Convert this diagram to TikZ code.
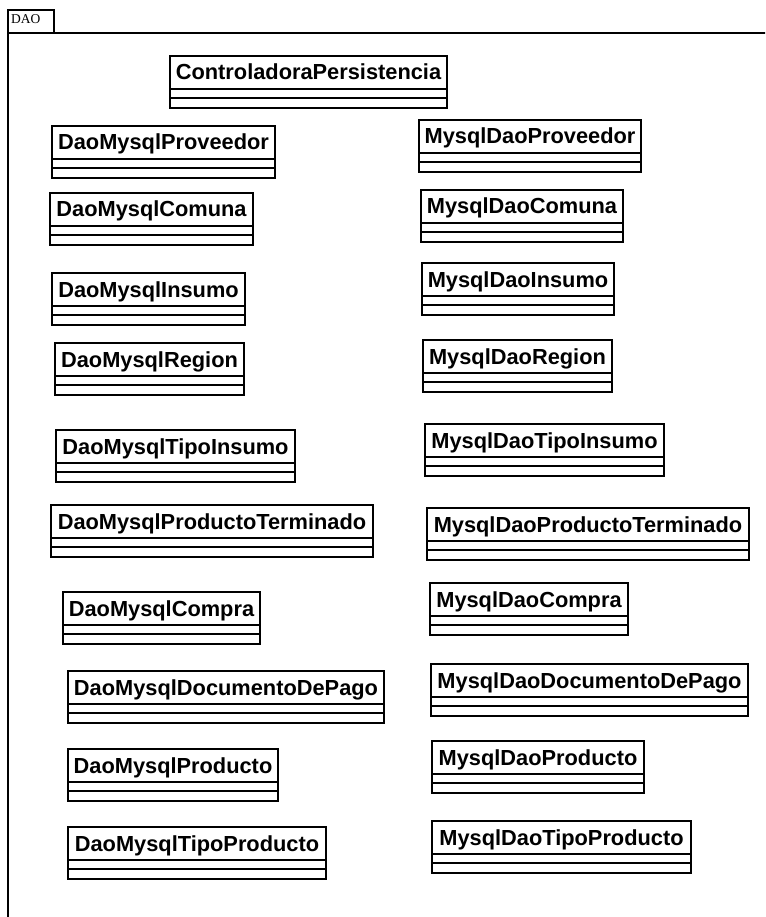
\documentclass[tikz,border=0pt]{standalone}
\usepackage{fontspec}
\setmainfont{Liberation Sans}
\newfontfamily\tabfont{Liberation Serif}
\tikzset{
  box/.style={draw=black, line width=2.2pt},
  lbl/.style={anchor=base, inner sep=0pt, font=\fontsize{21.8}{24}\selectfont\bfseries},
  frameline/.style={draw=black, line width=2pt},
}
\newcommand\umlcls[5]{%
  \draw[box, fill=white] (#2,-#3) rectangle (#4,-#3-52);
  \draw[box] (#2,-#3-33) -- (#4,-#3-33);
  \draw[box] (#2,-#3-42) -- (#4,-#3-42);
  \node[lbl] (#1) at ({(#2+#4)/2},-#3-24) {#5};
}
\begin{document}
\begin{tikzpicture}[x=1pt,y=1pt]
\useasboundingbox (0,0) rectangle (765,-917);
\clip (0,0) rectangle (765,-917);
\fill[white] (0,0) rectangle (765,-917);
% package frame
\draw[frameline] (8,-33) rectangle (800,-960);
\draw[frameline, fill=white] (8,-10) rectangle (54,-33);
\node[anchor=base west, inner sep=0pt, font=\tabfont\fontsize{13.5}{15}\selectfont] (daotab) at (11,-24) {DAO};
% classes
\umlcls{ctrl}{170}{56}{447}{ControladoraPersistencia}
\umlcls{dprov}{52}{126}{275}{DaoMysqlProveedor}
\umlcls{dcom}{50}{193}{253}{DaoMysqlComuna}
\umlcls{dins}{52}{273}{245}{DaoMysqlInsumo}
\umlcls{dreg}{55}{343}{244}{DaoMysqlRegion}
\umlcls{dtins}{56}{430}{295}{DaoMysqlTipoInsumo}
\umlcls{dpt}{51}{505}{373}{DaoMysqlProductoTerminado}
\umlcls{dcomp}{63}{592}{260}{DaoMysqlCompra}
\umlcls{ddoc}{68}{671}{384}{DaoMysqlDocumentoDePago}
\umlcls{dprod}{68}{749}{278}{DaoMysqlProducto}
\umlcls{dtprod}{68}{827}{326}{DaoMysqlTipoProducto}
\umlcls{mprov}{419}{120}{641}{MysqlDaoProveedor}
\umlcls{mcom}{421}{190}{623}{MysqlDaoComuna}
\umlcls{mins}{422}{263}{614}{MysqlDaoInsumo}
\umlcls{mreg}{423}{340}{612}{MysqlDaoRegion}
\umlcls{mtins}{425}{424}{664}{MysqlDaoTipoInsumo}
\umlcls{mpt}{427}{508}{749}{MysqlDaoProductoTerminado}
\umlcls{mcomp}{430}{583}{628}{MysqlDaoCompra}
\umlcls{mdoc}{431}{664}{748}{MysqlDaoDocumentoDePago}
\umlcls{mprod}{432}{741}{644}{MysqlDaoProducto}
\umlcls{mtprod}{432}{821}{691}{MysqlDaoTipoProducto}
\end{tikzpicture}
\end{document}
